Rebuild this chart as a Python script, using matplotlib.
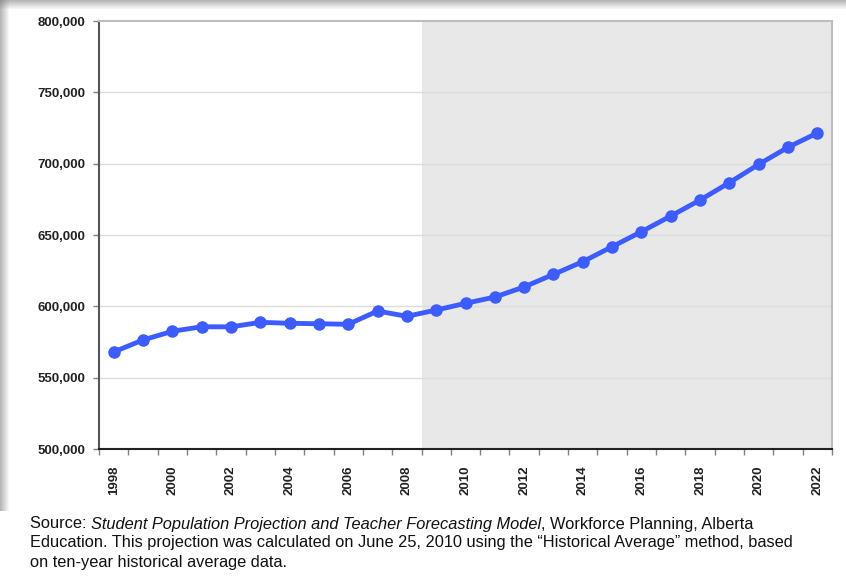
import matplotlib
matplotlib.use("Agg")
import matplotlib.pyplot as plt
import numpy as np
from matplotlib.patches import Rectangle

years = list(range(1998, 2023))
enrolment = [568000, 576400, 582500, 585700, 585600, 588800, 588100, 587800, 587400,
             596700, 593000, 597400, 602100, 606500, 613600, 622400, 631300, 641800,
             652300, 663300, 674500, 686700, 699500, 711500, 721500]
tick_years = [str(y) if (y - 1998) % 2 == 0 else "" for y in years]
y_ticks = [500000, 550000, 600000, 650000, 700000, 750000, 800000]
projection_start = 2009

plt.rcParams['font.family'] = ['Liberation Sans', 'DejaVu Sans']

fig = plt.figure(figsize=(8.46, 5.81), dpi=100)
fig.patch.set_facecolor("white")

# shadow border (top and left)
for i in range(9):
    a = 0.55 * (9 - i) / 9
    fig.patches.append(Rectangle((0, 1 - (i + 1) / 581), 1, 1 / 581, transform=fig.transFigure,
                                 color="#7a7a7a", alpha=a, lw=0, zorder=0))
    fig.patches.append(Rectangle((i / 846, 70 / 581), 1 / 846, 1 - 70 / 581, transform=fig.transFigure,
                                 color="#7a7a7a", alpha=a, lw=0, zorder=0))

ax = fig.add_axes([99 / 846, 1 - 449 / 581, (832 - 99) / 846, (449 - 21) / 581])
x = np.arange(len(years))
ax.set_xlim(-0.5, len(years) - 0.5)
ax.set_ylim(500000, 800000)

ps = years.index(projection_start) - 0.5
ax.axvspan(ps, len(years) - 0.5, color="#e8e8e8", lw=0, zorder=0)

for yv in y_ticks[1:-1]:
    ax.axhline(yv, color="#dcdcdc", lw=1, zorder=1)

ax.plot(x, enrolment, color="#3d5cff", lw=3.5, marker="o", markersize=8, zorder=3)

ax.set_yticks(y_ticks)
ax.set_yticklabels([f"{v:,}" for v in y_ticks], fontsize=9.5, fontweight="bold", color="#222222")
ax.set_xticks(x)
ax.set_xticklabels(tick_years, rotation=90, fontsize=9.5, fontweight="bold", color="#222222")
ax.set_xticks(np.arange(-0.5, len(years)), minor=True)
ax.tick_params(axis="x", which="major", length=0, pad=12)
ax.tick_params(axis="x", which="minor", length=4, color="#808080", width=1)
ax.tick_params(axis="y", length=4, color="#808080", width=1, pad=6)

for s in ["top", "right"]:
    ax.spines[s].set_color("#bdbdbd")
    ax.spines[s].set_linewidth(1.5)
ax.spines["left"].set_color("#555555")
ax.spines["left"].set_linewidth(1.5)
ax.spines["bottom"].set_color("#222222")
ax.spines["bottom"].set_linewidth(1.5)

fs = 11.8
y0 = 1 - 524 / 581
fig.text(30 / 846, y0, "Source: ", fontsize=fs, va="center", ha="left", color="#111111")
t = fig.text(30 / 846, y0, "Source: ", fontsize=fs, va="center", ha="left", alpha=0)
fig.canvas.draw()
bb = t.get_window_extent()
fig.text(bb.x1 / 846, y0, "Student Population Projection and Teacher Forecasting Model",
         fontsize=fs, style="italic", va="center", ha="left", color="#111111")
t2 = fig.text(bb.x1 / 846, y0, "Student Population Projection and Teacher Forecasting Model",
              fontsize=fs, style="italic", va="center", ha="left", alpha=0)
fig.canvas.draw()
bb2 = t2.get_window_extent()
fig.text(bb2.x1 / 846, y0, ", Workforce Planning, Alberta", fontsize=fs, va="center", ha="left",
         color="#111111")
fig.text(30 / 846, 1 - 543 / 581,
         "Education. This projection was calculated on June 25, 2010 using the \u201cHistorical Average\u201d method, based",
         fontsize=fs, va="center", ha="left", color="#111111")
fig.text(30 / 846, 1 - 562 / 581, "on ten-year historical average data.",
         fontsize=fs, va="center", ha="left", color="#111111")

fig.savefig("out.png", dpi=100, facecolor=fig.get_facecolor())
